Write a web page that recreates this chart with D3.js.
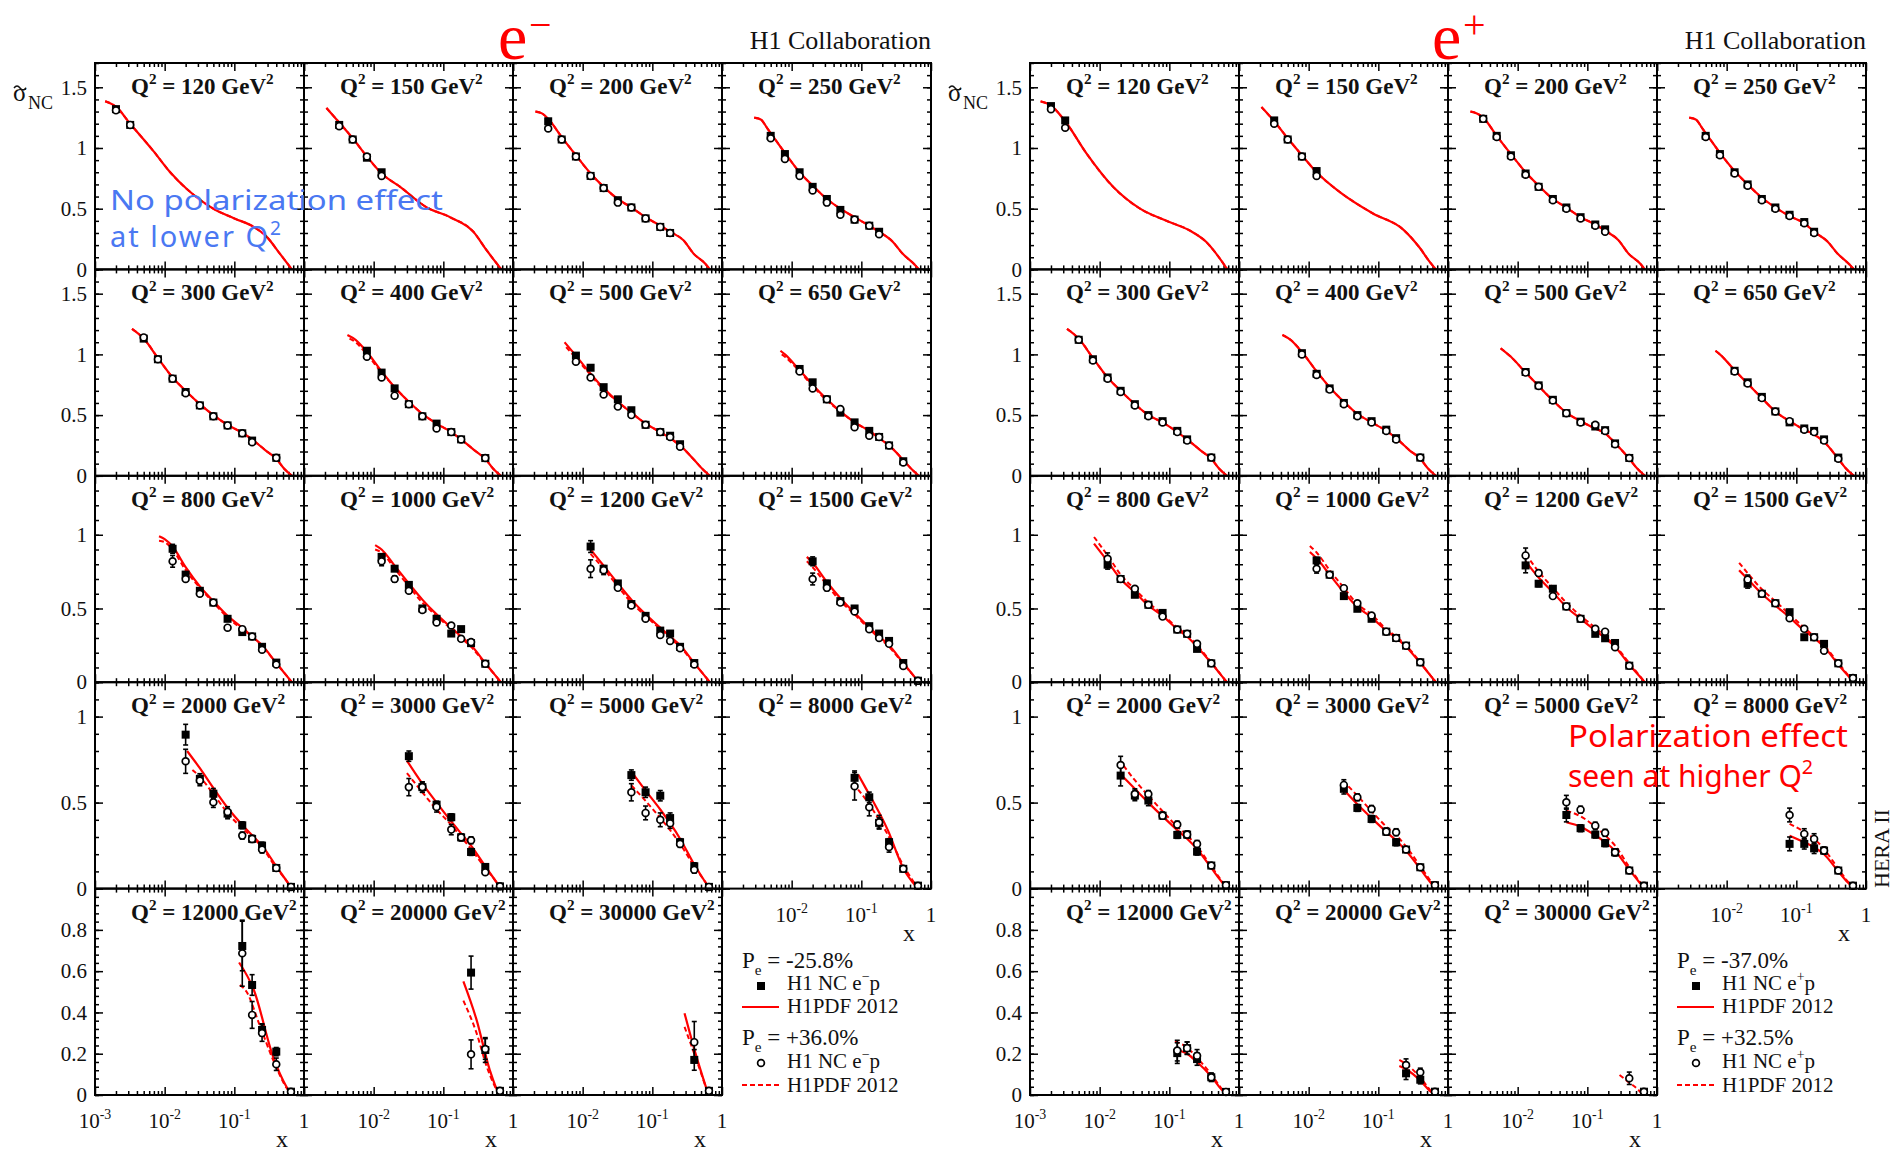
<!DOCTYPE html>
<html>
<head>
<meta charset="utf-8">
<script src="https://cdn.jsdelivr.net/npm/d3@7"></script>
<style>
  body { margin: 0; background: #fff; }
  text { font-family: "Liberation Serif", "Times New Roman", serif; }
</style>
</head>
<body>
<svg id="chart" width="1898" height="1152"></svg>
<script>
// ---- data ----
const q2Bins = [120, 150, 200, 250, 300, 400, 500, 650, 800, 1000, 1200, 1500,
                2000, 3000, 5000, 8000, 12000, 20000, 30000];

// e- p : x of the points, P<0 (filled squares) and P>0 (open circles)
const emX = [
  [0.002, 0.0032],
  [0.0032, 0.005, 0.008, 0.013],
  [0.0032, 0.005, 0.008, 0.013, 0.02, 0.032, 0.05, 0.08, 0.13, 0.18],
  [0.005, 0.008, 0.013, 0.02, 0.032, 0.05, 0.08, 0.13, 0.18],
  [0.005, 0.008, 0.013, 0.02, 0.032, 0.05, 0.08, 0.13, 0.18, 0.40],
  [0.008, 0.013, 0.02, 0.032, 0.05, 0.08, 0.13, 0.18, 0.40],
  [0.008, 0.013, 0.02, 0.032, 0.05, 0.08, 0.13, 0.18, 0.25],
  [0.013, 0.02, 0.032, 0.05, 0.08, 0.13, 0.18, 0.25, 0.40],
  [0.013, 0.02, 0.032, 0.05, 0.08, 0.13, 0.18, 0.25, 0.40],
  [0.013, 0.02, 0.032, 0.05, 0.08, 0.13, 0.18, 0.25, 0.40],
  [0.013, 0.02, 0.032, 0.05, 0.08, 0.13, 0.18, 0.25, 0.40],
  [0.02, 0.032, 0.05, 0.08, 0.13, 0.18, 0.25, 0.40, 0.65],
  [0.02, 0.032, 0.05, 0.08, 0.13, 0.18, 0.25, 0.40, 0.65],
  [0.032, 0.05, 0.08, 0.13, 0.18, 0.25, 0.40, 0.65],
  [0.05, 0.08, 0.13, 0.18, 0.25, 0.40, 0.65],
  [0.08, 0.13, 0.18, 0.25, 0.40, 0.65],
  [0.13, 0.18, 0.25, 0.40, 0.65],
  [0.25, 0.40, 0.65],
  [0.40, 0.65]
];
const emL = [
  [1.32, 1.19],
  [1.19, 1.07, 0.92, 0.80],
  [1.22, 1.07, 0.93, 0.77, 0.67, 0.57, 0.51, 0.42, 0.35, 0.30],
  [1.10, 0.95, 0.80, 0.68, 0.58, 0.49, 0.41, 0.36, 0.31],
  [1.13, 0.96, 0.80, 0.69, 0.58, 0.49, 0.415, 0.35, 0.29, 0.148],
  [1.03, 0.85, 0.72, 0.59, 0.49, 0.43, 0.36, 0.30, 0.146],
  [0.99, 0.89, 0.73, 0.63, 0.54, 0.42, 0.36, 0.33, 0.26],
  [0.88, 0.77, 0.63, 0.52, 0.44, 0.37, 0.32, 0.25, 0.12],
  [0.905, 0.73, 0.62, 0.54, 0.43, 0.34, 0.31, 0.24, 0.133],
  [0.85, 0.77, 0.66, 0.50, 0.43, 0.33, 0.36, 0.265, 0.125],
  [0.92, 0.77, 0.67, 0.53, 0.45, 0.35, 0.33, 0.24, 0.13],
  [0.82, 0.67, 0.55, 0.50, 0.38, 0.33, 0.28, 0.13, 0.01],
  [0.895, 0.638, 0.552, 0.436, 0.368, 0.289, 0.25, 0.12, 0.01],
  [0.77, 0.59, 0.488, 0.415, 0.298, 0.213, 0.126, 0.013],
  [0.66, 0.56, 0.54, 0.41, 0.27, 0.13, 0.01],
  [0.644, 0.531, 0.382, 0.27, 0.115, 0.017],
  [0.722, 0.533, 0.315, 0.21, 0.016],
  [0.593, 0.218, 0.02],
  [0.17, 0.02]
];
const emR = [
  [1.31, 1.19],
  [1.18, 1.07, 0.93, 0.77],
  [1.16, 1.07, 0.93, 0.77, 0.67, 0.55, 0.51, 0.42, 0.35, 0.30],
  [1.08, 0.91, 0.77, 0.65, 0.55, 0.45, 0.41, 0.36, 0.29],
  [1.14, 0.96, 0.80, 0.68, 0.58, 0.49, 0.415, 0.35, 0.277, 0.148],
  [0.98, 0.81, 0.66, 0.59, 0.49, 0.39, 0.36, 0.30, 0.146],
  [0.94, 0.81, 0.67, 0.57, 0.50, 0.42, 0.36, 0.32, 0.24],
  [0.86, 0.72, 0.63, 0.55, 0.40, 0.33, 0.32, 0.25, 0.11],
  [0.82, 0.70, 0.60, 0.54, 0.37, 0.36, 0.31, 0.22, 0.12],
  [0.82, 0.70, 0.62, 0.49, 0.405, 0.385, 0.294, 0.272, 0.125],
  [0.77, 0.76, 0.64, 0.52, 0.43, 0.32, 0.28, 0.23, 0.12],
  [0.70, 0.64, 0.54, 0.48, 0.36, 0.30, 0.26, 0.11, 0.01],
  [0.74, 0.628, 0.502, 0.446, 0.308, 0.289, 0.227, 0.12, 0.01],
  [0.59, 0.59, 0.475, 0.343, 0.298, 0.281, 0.095, 0.013],
  [0.56, 0.44, 0.40, 0.38, 0.26, 0.11, 0.01],
  [0.595, 0.473, 0.386, 0.242, 0.115, 0.017],
  [0.687, 0.388, 0.30, 0.149, 0.016],
  [0.197, 0.223, 0.02],
  [0.256, 0.02]
];
// visible error bars only (null = hidden by the marker)
const emLerr = [null, null, null, null, null, null, null, null,
  [0.03, 0, 0, 0, 0, 0, 0, 0, 0],
  [0.02, 0, 0, 0, 0, 0, 0, 0, 0],
  [0.04, 0.02, 0, 0, 0, 0, 0, 0, 0],
  [0.03, 0.02, 0, 0, 0, 0, 0, 0, 0],
  [0.06, 0.03, 0.03, 0.03, 0.02, 0.02, 0.02, 0, 0],
  [0.03, 0.03, 0.02, 0.02, 0.02, 0.02, 0, 0],
  [0.03, 0.03, 0.03, 0.03, 0.02, 0.02, 0],
  [0.04, 0.03, 0.03, 0.02, 0, 0],
  [0.12, 0.05, 0.03, 0.02, 0],
  [0.08, 0.06, 0],
  [0.05, 0]
];
const emRerr = [null, null, null, null, null, null, [0.02, 0, 0, 0, 0, 0, 0, 0, 0], null,
  [0.04, 0, 0, 0, 0, 0, 0, 0, 0],
  [0.03, 0.02, 0, 0, 0, 0, 0, 0, 0],
  [0.06, 0.03, 0, 0, 0, 0, 0, 0, 0],
  [0.04, 0.02, 0, 0, 0, 0, 0, 0, 0],
  [0.07, 0.03, 0.03, 0.03, 0.02, 0.02, 0.02, 0, 0],
  [0.05, 0.03, 0.03, 0.03, 0.02, 0.02, 0, 0],
  [0.05, 0.04, 0.04, 0.03, 0.02, 0.02, 0],
  [0.08, 0.05, 0.04, 0.03, 0, 0],
  [0.16, 0.065, 0.04, 0.03, 0],
  [0.07, 0.05, 0],
  [0.10, 0]
];
// H1PDF 2012 curves [x, sigma]; solid for P<0, dashed for P>0 (null = same as solid)
const emCurveL = [
  [[0.0014,1.385],[0.002,1.34],[0.0032,1.20],[0.007,0.97],[0.012,0.80],[0.021,0.66],[0.05,0.50],[0.1,0.42],[0.19,0.35],[0.29,0.27],[0.45,0.13],[0.67,0]],
  [[0.0021,1.33],[0.0032,1.21],[0.005,1.08],[0.008,0.93],[0.013,0.79],[0.024,0.68],[0.058,0.51],[0.125,0.43],[0.27,0.31],[0.42,0.156],[0.68,0]],
  [[0.0021,1.30],[0.0026,1.285],[0.0032,1.24],[0.005,1.09],[0.008,0.94],[0.013,0.79],[0.02,0.68],[0.032,0.58],[0.05,0.51],[0.08,0.43],[0.13,0.36],[0.18,0.31],[0.28,0.24],[0.39,0.13],[0.58,0.045],[0.67,0]],
  [[0.0029,1.25],[0.0036,1.235],[0.0045,1.16],[0.0055,1.09],[0.008,0.96],[0.013,0.80],[0.02,0.69],[0.032,0.58],[0.05,0.50],[0.08,0.43],[0.13,0.36],[0.18,0.31],[0.28,0.23],[0.39,0.13],[0.58,0.04],[0.67,0]],
  [[0.0034,1.21],[0.005,1.13],[0.008,0.97],[0.013,0.81],[0.02,0.70],[0.032,0.59],[0.05,0.50],[0.08,0.42],[0.13,0.355],[0.18,0.30],[0.28,0.21],[0.40,0.14],[0.52,0.058],[0.67,0]],
  [[0.0042,1.16],[0.0055,1.12],[0.008,1.02],[0.013,0.86],[0.02,0.73],[0.032,0.61],[0.05,0.51],[0.08,0.43],[0.13,0.36],[0.18,0.30],[0.28,0.21],[0.40,0.14],[0.52,0.058],[0.67,0]],
  [[0.0055,1.10],[0.008,0.99],[0.013,0.84],[0.02,0.72],[0.032,0.61],[0.05,0.52],[0.08,0.43],[0.13,0.36],[0.18,0.31],[0.25,0.25],[0.40,0.13],[0.52,0.058],[0.67,0]],
  [[0.0069,1.03],[0.008,1.00],[0.013,0.87],[0.02,0.75],[0.032,0.63],[0.05,0.53],[0.08,0.44],[0.13,0.37],[0.18,0.31],[0.25,0.25],[0.40,0.13],[0.52,0.058],[0.67,0]],
  [[0.0083,0.99],[0.01,0.97],[0.013,0.92],[0.02,0.78],[0.032,0.65],[0.05,0.55],[0.08,0.45],[0.13,0.37],[0.18,0.31],[0.25,0.25],[0.40,0.13],[0.55,0.05],[0.67,0]],
  [[0.0105,0.93],[0.013,0.90],[0.02,0.79],[0.032,0.67],[0.05,0.56],[0.08,0.46],[0.13,0.37],[0.18,0.31],[0.25,0.25],[0.40,0.13],[0.55,0.05],[0.67,0]],
  [[0.013,0.90],[0.02,0.79],[0.032,0.67],[0.05,0.56],[0.08,0.46],[0.13,0.37],[0.18,0.31],[0.25,0.25],[0.40,0.13],[0.55,0.05],[0.67,0]],
  [[0.0165,0.85],[0.02,0.81],[0.032,0.68],[0.05,0.57],[0.08,0.47],[0.13,0.37],[0.18,0.31],[0.25,0.25],[0.40,0.13],[0.55,0.05],[0.67,0]],
  [[0.021,0.80],[0.032,0.70],[0.05,0.585],[0.08,0.47],[0.13,0.37],[0.18,0.31],[0.25,0.25],[0.40,0.13],[0.55,0.05],[0.67,0]],
  [[0.030,0.744],[0.05,0.61],[0.08,0.50],[0.13,0.39],[0.18,0.32],[0.25,0.25],[0.40,0.13],[0.55,0.05],[0.67,0]],
  [[0.05,0.68],[0.08,0.57],[0.13,0.46],[0.18,0.38],[0.25,0.29],[0.40,0.14],[0.55,0.05],[0.67,0]],
  [[0.09,0.663],[0.11,0.60],[0.24,0.34],[0.41,0.11],[0.55,0.035],[0.65,0]],
  [[0.117,0.642],[0.19,0.51],[0.36,0.186],[0.56,0.04],[0.67,0]],
  [[0.194,0.55],[0.30,0.364],[0.465,0.12],[0.62,0.01],[0.65,0]],
  [[0.29,0.396],[0.43,0.186],[0.57,0.053],[0.64,0]]
];
const emCurveR = [null, null, null, null, null,
  [[0.0045,1.13],[0.0055,1.10],[0.008,1.00],[0.013,0.85],[0.02,0.73],[0.032,0.61],[0.05,0.51],[0.08,0.43],[0.13,0.36],[0.18,0.30],[0.28,0.21],[0.40,0.14],[0.52,0.058],[0.67,0]],
  [[0.0058,1.06],[0.008,0.97],[0.013,0.83],[0.02,0.71],[0.032,0.61],[0.05,0.52],[0.08,0.43],[0.13,0.36],[0.18,0.31],[0.25,0.25],[0.40,0.13],[0.52,0.058],[0.67,0]],
  [[0.0072,1.00],[0.008,0.98],[0.013,0.86],[0.02,0.74],[0.032,0.62],[0.05,0.53],[0.08,0.44],[0.13,0.37],[0.18,0.31],[0.25,0.25],[0.40,0.13],[0.52,0.058],[0.67,0]],
  [[0.0083,0.96],[0.01,0.95],[0.013,0.90],[0.02,0.76],[0.032,0.64],[0.05,0.54],[0.08,0.44],[0.13,0.36],[0.18,0.31],[0.25,0.245],[0.40,0.13],[0.55,0.05],[0.67,0]],
  [[0.0105,0.90],[0.013,0.88],[0.02,0.77],[0.032,0.65],[0.05,0.54],[0.08,0.45],[0.13,0.36],[0.18,0.30],[0.25,0.24],[0.40,0.125],[0.55,0.05],[0.67,0]],
  [[0.013,0.87],[0.02,0.77],[0.032,0.65],[0.05,0.54],[0.08,0.45],[0.13,0.36],[0.18,0.30],[0.25,0.24],[0.40,0.125],[0.55,0.05],[0.67,0]],
  [[0.0165,0.82],[0.02,0.78],[0.032,0.66],[0.05,0.55],[0.08,0.46],[0.13,0.36],[0.18,0.30],[0.25,0.24],[0.40,0.125],[0.55,0.05],[0.67,0]],
  [[0.025,0.69],[0.032,0.65],[0.05,0.55],[0.08,0.44],[0.13,0.35],[0.18,0.30],[0.25,0.24],[0.40,0.12],[0.55,0.05],[0.67,0]],
  [[0.030,0.672],[0.05,0.56],[0.08,0.46],[0.13,0.37],[0.18,0.30],[0.25,0.23],[0.40,0.12],[0.55,0.05],[0.67,0]],
  [[0.05,0.60],[0.08,0.51],[0.13,0.41],[0.18,0.34],[0.25,0.26],[0.40,0.13],[0.55,0.05],[0.67,0]],
  [[0.09,0.576],[0.13,0.49],[0.18,0.40],[0.25,0.30],[0.40,0.135],[0.55,0.045],[0.65,0]],
  [[0.12,0.533],[0.15,0.50],[0.23,0.34],[0.36,0.17],[0.56,0.035],[0.67,0]],
  [[0.194,0.457],[0.30,0.30],[0.42,0.137],[0.62,0.01],[0.65,0]],
  [[0.29,0.33],[0.43,0.17],[0.57,0.05],[0.64,0]]
];

// e+ p
const epX = [
  [0.002, 0.0032],
  [0.0032, 0.005, 0.008, 0.013],
  [0.0032, 0.005, 0.008, 0.013, 0.02, 0.032, 0.05, 0.08, 0.13, 0.18],
  [0.005, 0.008, 0.013, 0.02, 0.032, 0.05, 0.08, 0.13, 0.18],
  [0.005, 0.008, 0.013, 0.02, 0.032, 0.05, 0.08, 0.13, 0.18, 0.40],
  [0.008, 0.013, 0.02, 0.032, 0.05, 0.08, 0.13, 0.18, 0.40],
  [0.013, 0.02, 0.032, 0.05, 0.08, 0.13, 0.18, 0.25, 0.40],
  [0.013, 0.02, 0.032, 0.05, 0.08, 0.13, 0.18, 0.25, 0.40],
  [0.013, 0.02, 0.032, 0.05, 0.08, 0.13, 0.18, 0.25, 0.40],
  [0.013, 0.02, 0.032, 0.05, 0.08, 0.13, 0.18, 0.25, 0.40],
  [0.013, 0.02, 0.032, 0.05, 0.08, 0.13, 0.18, 0.25, 0.40],
  [0.02, 0.032, 0.05, 0.08, 0.13, 0.18, 0.25, 0.40, 0.65],
  [0.02, 0.032, 0.05, 0.08, 0.13, 0.18, 0.25, 0.40, 0.65],
  [0.032, 0.05, 0.08, 0.13, 0.18, 0.25, 0.40, 0.65],
  [0.05, 0.08, 0.13, 0.18, 0.25, 0.40, 0.65],
  [0.08, 0.13, 0.18, 0.25, 0.40, 0.65],
  [0.13, 0.18, 0.25, 0.40, 0.65],
  [0.25, 0.40, 0.65],
  [0.40, 0.65]
];
const epL = [
  [1.345, 1.227],
  [1.227, 1.07, 0.93, 0.81],
  [1.24, 1.10, 0.94, 0.79, 0.68, 0.58, 0.51, 0.43, 0.37, 0.33],
  [1.10, 0.95, 0.80, 0.70, 0.58, 0.51, 0.45, 0.39, 0.31],
  [1.12, 0.96, 0.81, 0.70, 0.59, 0.50, 0.45, 0.37, 0.30, 0.15],
  [1.01, 0.84, 0.72, 0.60, 0.50, 0.45, 0.38, 0.31, 0.15],
  [0.855, 0.745, 0.626, 0.516, 0.446, 0.406, 0.376, 0.267, 0.147],
  [0.865, 0.77, 0.65, 0.53, 0.44, 0.39, 0.37, 0.30, 0.15],
  [0.797, 0.70, 0.593, 0.525, 0.47, 0.357, 0.328, 0.226, 0.128],
  [0.826, 0.729, 0.584, 0.498, 0.43, 0.343, 0.30, 0.248, 0.135],
  [0.792, 0.668, 0.634, 0.514, 0.43, 0.328, 0.298, 0.266, 0.112],
  [0.668, 0.60, 0.536, 0.475, 0.305, 0.305, 0.26, 0.128, 0.028],
  [0.657, 0.541, 0.512, 0.424, 0.312, 0.314, 0.215, 0.134, 0.02],
  [0.58, 0.469, 0.405, 0.331, 0.269, 0.227, 0.124, 0.02],
  [0.428, 0.351, 0.314, 0.264, 0.211, 0.105, 0.017],
  [0.26, 0.26, 0.234, 0.221, 0.105, 0.017],
  [0.203, 0.227, 0.174, 0.086, 0.015],
  [0.105, 0.074, 0.016],
  [null, 0.016]
];
const epR = [
  [1.32, 1.167],
  [1.20, 1.07, 0.93, 0.77],
  [1.24, 1.09, 0.93, 0.78, 0.68, 0.57, 0.50, 0.42, 0.36, 0.31],
  [1.09, 0.94, 0.79, 0.69, 0.57, 0.50, 0.44, 0.38, 0.30],
  [1.12, 0.95, 0.80, 0.69, 0.58, 0.49, 0.44, 0.36, 0.29, 0.15],
  [1.00, 0.83, 0.71, 0.59, 0.49, 0.44, 0.37, 0.30, 0.15],
  [0.85, 0.74, 0.62, 0.516, 0.44, 0.42, 0.37, 0.26, 0.147],
  [0.86, 0.76, 0.64, 0.53, 0.45, 0.38, 0.36, 0.29, 0.14],
  [0.837, 0.70, 0.634, 0.525, 0.445, 0.357, 0.328, 0.26, 0.128],
  [0.77, 0.729, 0.638, 0.536, 0.452, 0.343, 0.30, 0.248, 0.135],
  [0.86, 0.74, 0.584, 0.514, 0.43, 0.362, 0.343, 0.237, 0.112],
  [0.697, 0.60, 0.536, 0.434, 0.362, 0.305, 0.214, 0.128, 0.028],
  [0.719, 0.55, 0.55, 0.424, 0.372, 0.314, 0.26, 0.134, 0.02],
  [0.603, 0.531, 0.463, 0.331, 0.328, 0.227, 0.124, 0.02],
  [0.502, 0.459, 0.366, 0.324, 0.211, 0.105, 0.017],
  [0.428, 0.318, 0.289, 0.221, 0.105, 0.017],
  [0.215, 0.227, 0.19, 0.086, 0.015],
  [0.145, 0.11, 0.016],
  [0.081, 0.016]
];
const epLerr = [null, null, null, null, null, null, null, null,
  [0.03, 0, 0, 0, 0, 0, 0, 0, 0],
  [0.02, 0, 0, 0, 0, 0, 0, 0, 0],
  [0.05, 0.02, 0, 0, 0, 0, 0, 0, 0],
  [0.03, 0, 0, 0, 0, 0, 0, 0, 0],
  [0.06, 0.03, 0.03, 0.02, 0.02, 0.02, 0.02, 0, 0],
  [0.03, 0.02, 0.02, 0.02, 0.02, 0, 0, 0],
  [0.04, 0.02, 0.02, 0.02, 0.02, 0, 0],
  [0.04, 0.03, 0.03, 0.02, 0, 0],
  [0.05, 0.03, 0.03, 0.02, 0],
  [0.03, 0.02, 0],
  [0, 0]
];
const epRerr = [null, null, null, null, null, null, null, null,
  [0.04, 0, 0, 0, 0, 0, 0, 0, 0],
  [0.03, 0, 0, 0, 0, 0, 0, 0, 0],
  [0.05, 0.02, 0, 0, 0, 0, 0, 0, 0],
  [0.03, 0, 0, 0, 0, 0, 0, 0, 0],
  [0.05, 0.03, 0.02, 0.02, 0.02, 0.02, 0.02, 0, 0],
  [0.03, 0.02, 0.02, 0.02, 0.02, 0, 0, 0],
  [0.04, 0.02, 0.02, 0.02, 0.02, 0, 0],
  [0.04, 0.03, 0.03, 0.02, 0, 0],
  [0.05, 0.03, 0.03, 0.02, 0],
  [0.03, 0.02, 0],
  [0.03, 0]
];
const epCurveL = [
  [[0.00142,1.384],[0.002,1.35],[0.0032,1.22],[0.0065,0.953],[0.0157,0.678],[0.038,0.50],[0.091,0.40],[0.197,0.32],[0.34,0.225],[0.47,0.13],[0.68,0]],
  [[0.0021,1.337],[0.0032,1.22],[0.005,1.08],[0.008,0.94],[0.013,0.80],[0.028,0.637],[0.084,0.46],[0.226,0.33],[0.39,0.18],[0.55,0.06],[0.67,0]],
  [[0.0021,1.30],[0.0026,1.285],[0.0032,1.25],[0.005,1.10],[0.008,0.95],[0.013,0.80],[0.02,0.69],[0.032,0.58],[0.05,0.51],[0.08,0.43],[0.13,0.37],[0.18,0.32],[0.28,0.24],[0.39,0.13],[0.58,0.045],[0.67,0]],
  [[0.0029,1.25],[0.0036,1.235],[0.0045,1.16],[0.0055,1.09],[0.008,0.96],[0.013,0.81],[0.02,0.70],[0.032,0.59],[0.05,0.51],[0.08,0.44],[0.13,0.38],[0.18,0.31],[0.28,0.23],[0.39,0.13],[0.58,0.04],[0.67,0]],
  [[0.0034,1.21],[0.005,1.13],[0.008,0.97],[0.013,0.81],[0.02,0.70],[0.032,0.59],[0.05,0.50],[0.08,0.44],[0.13,0.36],[0.18,0.30],[0.28,0.21],[0.40,0.14],[0.52,0.058],[0.67,0]],
  [[0.0042,1.16],[0.0055,1.12],[0.008,1.02],[0.013,0.86],[0.02,0.73],[0.032,0.61],[0.05,0.51],[0.08,0.44],[0.13,0.37],[0.18,0.31],[0.28,0.21],[0.40,0.14],[0.52,0.058],[0.67,0]],
  [[0.0057,1.05],[0.008,0.98],[0.013,0.85],[0.02,0.74],[0.032,0.62],[0.05,0.52],[0.08,0.45],[0.13,0.39],[0.18,0.35],[0.25,0.27],[0.40,0.14],[0.52,0.06],[0.67,0]],
  [[0.0069,1.03],[0.008,1.00],[0.013,0.87],[0.02,0.76],[0.032,0.64],[0.05,0.53],[0.08,0.45],[0.13,0.38],[0.18,0.34],[0.25,0.28],[0.40,0.14],[0.52,0.058],[0.67,0]],
  [[0.0083,0.94],[0.013,0.82],[0.02,0.70],[0.032,0.61],[0.05,0.52],[0.08,0.45],[0.13,0.36],[0.18,0.31],[0.25,0.24],[0.40,0.13],[0.55,0.05],[0.67,0]],
  [[0.0104,0.883],[0.013,0.84],[0.02,0.73],[0.032,0.61],[0.05,0.51],[0.08,0.44],[0.13,0.35],[0.18,0.30],[0.25,0.24],[0.40,0.13],[0.55,0.05],[0.67,0]],
  [[0.013,0.82],[0.02,0.71],[0.032,0.61],[0.05,0.51],[0.08,0.43],[0.13,0.35],[0.18,0.30],[0.25,0.24],[0.40,0.12],[0.55,0.045],[0.67,0]],
  [[0.0151,0.759],[0.02,0.70],[0.032,0.60],[0.05,0.52],[0.08,0.44],[0.13,0.35],[0.18,0.30],[0.25,0.24],[0.40,0.12],[0.55,0.045],[0.67,0]],
  [[0.022,0.647],[0.032,0.58],[0.05,0.50],[0.08,0.42],[0.13,0.34],[0.18,0.29],[0.25,0.23],[0.40,0.12],[0.55,0.045],[0.67,0]],
  [[0.031,0.58],[0.05,0.49],[0.08,0.41],[0.13,0.33],[0.18,0.28],[0.25,0.22],[0.40,0.115],[0.55,0.04],[0.67,0]],
  [[0.05,0.386],[0.08,0.36],[0.13,0.31],[0.18,0.27],[0.25,0.22],[0.40,0.11],[0.55,0.04],[0.67,0]],
  [[0.08,0.308],[0.13,0.27],[0.18,0.24],[0.25,0.20],[0.40,0.10],[0.55,0.035],[0.67,0]],
  [[0.12,0.22],[0.18,0.20],[0.25,0.16],[0.40,0.09],[0.55,0.03],[0.67,0]],
  [[0.2,0.14],[0.25,0.125],[0.40,0.07],[0.55,0.02],[0.65,0]],
  []
];
const epCurveR = [null, null, null, null, null, null, null, null,
  [[0.0083,0.985],[0.013,0.86],[0.02,0.73],[0.032,0.63],[0.05,0.54],[0.08,0.46],[0.13,0.37],[0.18,0.32],[0.25,0.25],[0.40,0.135],[0.55,0.05],[0.67,0]],
  [[0.0104,0.924],[0.013,0.88],[0.02,0.76],[0.032,0.64],[0.05,0.53],[0.08,0.46],[0.13,0.36],[0.18,0.31],[0.25,0.25],[0.40,0.135],[0.55,0.05],[0.67,0]],
  [[0.013,0.87],[0.02,0.75],[0.032,0.64],[0.05,0.54],[0.08,0.45],[0.13,0.37],[0.18,0.31],[0.25,0.25],[0.40,0.13],[0.55,0.05],[0.67,0]],
  [[0.0151,0.81],[0.02,0.74],[0.032,0.63],[0.05,0.55],[0.08,0.46],[0.13,0.37],[0.18,0.31],[0.25,0.25],[0.40,0.13],[0.55,0.05],[0.67,0]],
  [[0.022,0.715],[0.032,0.63],[0.05,0.54],[0.08,0.45],[0.13,0.36],[0.18,0.31],[0.25,0.245],[0.40,0.13],[0.55,0.05],[0.67,0]],
  [[0.031,0.628],[0.05,0.54],[0.08,0.45],[0.13,0.36],[0.18,0.31],[0.25,0.245],[0.40,0.13],[0.55,0.05],[0.67,0]],
  [[0.05,0.453],[0.08,0.42],[0.13,0.36],[0.18,0.31],[0.25,0.25],[0.40,0.125],[0.55,0.045],[0.67,0]],
  [[0.08,0.376],[0.13,0.33],[0.18,0.29],[0.25,0.23],[0.40,0.115],[0.55,0.04],[0.67,0]],
  [[0.12,0.26],[0.18,0.23],[0.25,0.18],[0.40,0.10],[0.55,0.035],[0.67,0]],
  [[0.2,0.17],[0.25,0.15],[0.40,0.085],[0.55,0.025],[0.65,0]],
  [[0.29,0.097],[0.40,0.06],[0.57,0.016],[0.62,0]]
];

// axis set-up per row
const rowYMax = [1.7, 1.7, 1.4, 1.2, 1.0];
const rowYTicks = [[0, 0.5, 1, 1.5], [0, 0.5, 1, 1.5], [0, 0.5, 1], [0, 0.5, 1], [0, 0.2, 0.4, 0.6, 0.8]];
const rowYMinorStep = [0.1, 0.1, 0.1, 0.1, 0.04];
const xDecades = [1e-3, 1e-2, 1e-1, 1];
const xDecadeLabels = [['10', '-3'], ['10', '-2'], ['10', '-1'], ['1', '']];

// ---- layout ----
const gridLeft = [95, 1030];
const colW = 209, rowH = 206.4, gridTop = 63;
const RED = '#ff0000', BLUE = '#4a78f2', INK = '#111';

const svg = d3.select('#chart');
svg.append('rect').attr('width', 1898).attr('height', 1152).attr('fill', '#fff');

// text with super/subscripts: parts = [[string, 'n'|'sup'|'sub'], ...]
function rich(parent, x, y, parts, size, color) {
    const t = parent.append('text').attr('x', x).attr('y', y)
        .style('font-size', size + 'px').style('fill', color || INK);
    let shift = 0;
    parts.forEach(([s, k]) => {
        const target = k === 'sup' ? -0.42 * size : (k === 'sub' ? 0.3 * size : 0);
        const ts = t.append('tspan').attr('dy', (target - shift).toFixed(1)).text(s);
        if (k !== 'n') ts.style('font-size', (size * 0.66).toFixed(1) + 'px');
        shift = target;
    });
    return t;
}

function drawPanel(g, i, left, xs, L, R, Le, Re, cL, cR) {
    const row = Math.floor(i / 4), col = i % 4;
    const px = left + col * colW, py = gridTop + row * rowH;
    const x = d3.scaleLog().domain([1e-3, 1]).range([px, px + colW]);
    const y = d3.scaleLinear().domain([0, rowYMax[row]]).range([py + rowH, py]);

    const xMinor = [];
    [1e-3, 1e-2, 1e-1].forEach(d => { for (let k = 2; k <= 9; k++) xMinor.push(k * d); });
    const yMinor = d3.range(0, rowYMax[row] + 1e-9, rowYMinorStep[row]);

    const ax = g.append('g').attr('class', 'axes');
    const tick = (axis, tr) => {
        const a = ax.append('g').attr('transform', tr).call(axis);
        a.select('.domain').remove();
        a.selectAll('line').attr('stroke', '#000').attr('stroke-width', 1.5);
        a.selectAll('text').remove();
    };
    tick(d3.axisBottom(x).tickValues(xDecades).tickSize(-8), `translate(0,${py + rowH})`);
    tick(d3.axisBottom(x).tickValues(xMinor).tickSize(-4), `translate(0,${py + rowH})`);
    tick(d3.axisTop(x).tickValues(xDecades).tickSize(-8), `translate(0,${py})`);
    tick(d3.axisTop(x).tickValues(xMinor).tickSize(-4), `translate(0,${py})`);
    tick(d3.axisLeft(y).tickValues(rowYTicks[row]).tickSize(-8), `translate(${px},0)`);
    tick(d3.axisLeft(y).tickValues(yMinor).tickSize(-4), `translate(${px},0)`);
    tick(d3.axisRight(y).tickValues(rowYTicks[row]).tickSize(-8), `translate(${px + colW},0)`);
    tick(d3.axisRight(y).tickValues(yMinor).tickSize(-4), `translate(${px + colW},0)`);

    // y labels on first column
    if (col === 0) {
        const a = ax.append('g').attr('transform', `translate(${px},0)`)
            .call(d3.axisLeft(y).tickValues(rowYTicks[row]).tickSize(0).tickPadding(8).tickFormat(d => String(d)));
        a.select('.domain').remove();
        a.attr('font-size', null).attr('font-family', null);
        a.selectAll('text').style('font-size', '21px').style('fill', INK);
    }
    // x labels under the bottom panel of each column
    const bottom = row === 4 || (row === 3 && col === 3);
    if (bottom) {
        xDecades.forEach((d, k) => {
            if (k === 0 && col !== 0) return;
            const [base, ex] = xDecadeLabels[k];
            rich(g, x(d), py + rowH + 33, ex ? [[base, 'n'], [ex, 'sup']] : [[base, 'n']], 21)
                .attr('text-anchor', 'middle');
        });
        g.append('text').attr('x', px + colW - 22).attr('y', py + rowH + 52)
            .attr('text-anchor', 'middle').style('font-size', '24px').style('fill', INK).text('x');
    }

    // theory curves
    const line = d3.line().x(d => x(d[0])).y(d => y(d[1])).curve(d3.curveMonotoneX);
    const dashed = cR || cL;
    if (dashed && dashed.length) {
        g.append('path').datum(dashed).attr('d', line).attr('fill', 'none')
            .attr('stroke', RED).attr('stroke-width', 2).attr('stroke-dasharray', '5,3');
    }
    if (cL && cL.length) {
        g.append('path').datum(cL).attr('d', line).attr('fill', 'none')
            .attr('stroke', RED).attr('stroke-width', 2.2);
    }

    // data points
    const pts = (vals, errs) => xs.map((xv, k) => ({ x: xv, v: vals[k], e: errs ? errs[k] : 0 }))
        .filter(d => d.v !== null && d.v !== undefined);
    const pL = pts(L, Le), pR = pts(R, Re);
    const bars = g.append('g').attr('stroke', '#000').attr('stroke-width', 1.6);
    [...pL, ...pR].filter(d => d.e > 0.015).forEach(d => {
        const cx = x(d.x), y0 = y(d.v - d.e), y1 = y(Math.min(d.v + d.e, rowYMax[row]));
        bars.append('line').attr('x1', cx).attr('x2', cx).attr('y1', y0).attr('y2', y1);
        bars.append('line').attr('x1', cx - 2.5).attr('x2', cx + 2.5).attr('y1', y0).attr('y2', y0);
        bars.append('line').attr('x1', cx - 2.5).attr('x2', cx + 2.5).attr('y1', y1).attr('y2', y1);
    });
    g.append('g').selectAll('rect').data(pL).join('rect')
        .attr('x', d => x(d.x) - 4).attr('y', d => y(d.v) - 4)
        .attr('width', 8).attr('height', 8).attr('fill', '#000');
    g.append('g').selectAll('circle').data(pR).join('circle')
        .attr('cx', d => x(d.x)).attr('cy', d => y(d.v)).attr('r', 3.4)
        .attr('fill', '#fff').attr('stroke', '#000').attr('stroke-width', 1.7);

    // frame
    g.append('rect').attr('x', px).attr('y', py).attr('width', colW).attr('height', rowH)
        .attr('fill', 'none').attr('stroke', '#000').attr('stroke-width', 2);

    // panel title
    rich(g, px + 36, py + 31, [['Q', 'n'], ['2', 'sup'], [' = ' + q2Bins[i] + ' GeV', 'n'], ['2', 'sup']], 23)
        .style('font-weight', 'bold');
}

function drawGrid(k, X, L, R, Le, Re, cL, cR) {
    const g = svg.append('g');
    q2Bins.forEach((q, i) => drawPanel(g, i, gridLeft[k], X[i], L[i], R[i], Le[i], Re[i], cL[i], cR[i]));
    return g;
}

const gm = drawGrid(0, emX, emL, emR, emLerr, emRerr, emCurveL, emCurveR);
const gp = drawGrid(1, epX, epL, epR, epLerr, epRerr, epCurveL, epCurveR);

// ---- headers ----
function header(g, left, sign, eX) {
    const right = left + 4 * colW;
    g.append('text').attr('x', right).attr('y', 49).attr('text-anchor', 'end')
        .style('font-size', '26px').style('fill', INK).text('H1 Collaboration');
    g.append('text').attr('x', eX).attr('y', 59).style('font-size', '66px').style('fill', RED).text('e');
    g.append('text').attr('x', eX + 31).attr('y', 38).style('font-size', '40px').style('fill', RED).text(sign);
    // sigma-tilde NC
    const sx = left - 82;
    g.append('text').attr('x', sx).attr('y', 101).style('font-size', '25px').style('fill', INK).text('σ');
    g.append('path').attr('d', `M${sx + 1},${88} q3,-4 6,0 t6,0`)
        .attr('fill', 'none').attr('stroke', INK).attr('stroke-width', 1.4);
    g.append('text').attr('x', sx + 15).attr('y', 109).style('font-size', '18px').style('fill', INK).text('NC');
}
header(gm, gridLeft[0], '−', 498);
header(gp, gridLeft[1], '+', 1432);

// ---- legends ----
function legend(g, lx, plusMinus, pol1, pol2) {
    const mx = lx + 19, tx = lx + 45;
    rich(g, lx, 968, [['P', 'n'], ['e', 'sub'], [' = ' + pol1, 'n']], 23);
    g.append('rect').attr('x', mx - 4).attr('y', 982).attr('width', 8).attr('height', 8).attr('fill', '#000');
    rich(g, tx, 990, [['H1 NC e', 'n'], [plusMinus, 'sup'], ['p', 'n']], 21);
    g.append('line').attr('x1', lx).attr('x2', lx + 37).attr('y1', 1007).attr('y2', 1007)
        .attr('stroke', RED).attr('stroke-width', 2);
    g.append('text').attr('x', tx).attr('y', 1013).style('font-size', '21px').style('fill', INK).text('H1PDF 2012');
    rich(g, lx, 1045, [['P', 'n'], ['e', 'sub'], [' = ' + pol2, 'n']], 23);
    g.append('circle').attr('cx', mx).attr('cy', 1063).attr('r', 3.4)
        .attr('fill', '#fff').attr('stroke', '#000').attr('stroke-width', 1.7);
    rich(g, tx, 1068, [['H1 NC e', 'n'], [plusMinus, 'sup'], ['p', 'n']], 21);
    g.append('line').attr('x1', lx).attr('x2', lx + 37).attr('y1', 1085).attr('y2', 1085)
        .attr('stroke', RED).attr('stroke-width', 2).attr('stroke-dasharray', '5,3');
    g.append('text').attr('x', tx).attr('y', 1092).style('font-size', '21px').style('fill', INK).text('H1PDF 2012');
}
legend(gm, 742, '−', '-25.8%', '+36.0%');
legend(gp, 1677, '+', '-37.0%', '+32.5%');

// HERA II tag
svg.append('text').attr('transform', 'translate(1889,888) rotate(-90)')
    .style('font-size', '22px').style('fill', INK).text('HERA II');

// ---- annotations ----
const ann = svg.append('g');
ann.append('text').attr('x', 110).attr('y', 210)
    .attr('textLength', 333).attr('lengthAdjust', 'spacingAndGlyphs')
    .style('font-size', '28px').style('font-family', '"Noto Sans", sans-serif').style('fill', BLUE)
    .text('No polarization effect');
rich(ann, 110, 247, [['at lower Q', 'n'], ['2', 'sup']], 29, BLUE)
    .style('font-family', '"Noto Sans", sans-serif').style('letter-spacing', '2px');
ann.append('text').attr('x', 1568).attr('y', 747)
    .attr('textLength', 280).attr('lengthAdjust', 'spacingAndGlyphs')
    .style('font-size', '30px').style('font-family', '"Noto Sans", sans-serif').style('fill', RED)
    .text('Polarization effect');
rich(ann, 1568, 787, [['seen at higher Q', 'n'], ['2', 'sup']], 30, RED)
    .style('font-family', '"Noto Sans", sans-serif');
</script>
</body>
</html>
